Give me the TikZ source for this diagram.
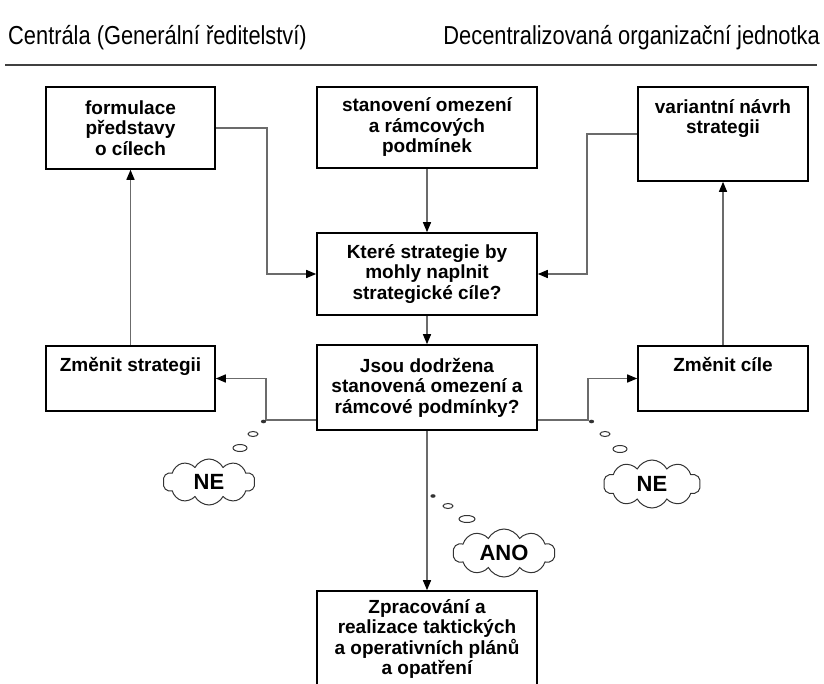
\documentclass[tikz,border=0pt]{standalone}
\usepackage{fontspec}
\setmainfont{Liberation Sans}
\usepackage{graphicx}
\usetikzlibrary{arrows.meta,shapes.symbols,calc}
\colorlet{connc}{black!58}
\tikzset{
  stepbox/.style={draw=black, line width=1.6pt, inner sep=0pt, fill=white,
    font=\bfseries\fontsize{19}{20.5}\selectfont, align=center},
  boxtext/.style={font=\bfseries\fontsize{19}{20.5}\selectfont, align=center, inner sep=0pt},
  headtext/.style={font=\fontsize{26}{28}\selectfont, inner sep=0pt},
  conn/.style={draw=connc, line width=1.4pt, -{Triangle[length=10pt,width=8pt,color=black]}},
  bubble/.style={cloud, draw=black!80, line width=1pt, cloud puffs=10, cloud puff arc=125,
    cloud ignores aspect, inner sep=0pt, font=\bfseries\fontsize{22}{24}\selectfont},
  puff/.style={draw=black!80, line width=1pt}
}
\begin{document}
\begin{tikzpicture}[x=1pt,y=-1pt]
\useasboundingbox (0,0) rectangle (824,684);
\clip (0,0) rectangle (824,684);

% column headings and rule
\node[headtext, anchor=base west] (hl) at (8,45) {\scalebox{0.84}[1]{Centrála (Generální ředitelství)}};
\node[headtext, anchor=base east] (hr) at (820,45) {\scalebox{0.84}[1]{Decentralizovaná organizační jednotka}};
\draw[line width=2pt, black!75] (5,65) -- (817,65);

% boxes
\node[stepbox, minimum width=169, minimum height=82] (b1) at (130.5,128) {formulace\\představy\\o cílech};
\node[stepbox, minimum width=220, minimum height=81] (b2) at (427,127.5) {stanovení omezení\\a rámcových\\podmínek};
\node[stepbox, minimum width=170, minimum height=94] (b3) at (723,134) {};
\node[boxtext, anchor=north] (t3) at (723,99) {variantní návrh\\strategii};
\node[stepbox, minimum width=220, minimum height=82] (b4) at (427,274) {Které strategie by\\mohly naplnit\\strategické cíle?};
\node[stepbox, minimum width=169, minimum height=65] (b5) at (130.5,378.5) {};
\node[boxtext, anchor=north] (t5) at (130.5,357) {Změnit strategii};
\node[stepbox, minimum width=220, minimum height=85] (b6) at (427,387.5) {Jsou dodržena\\stanovená omezení a\\rámcové podmínky?};
\node[stepbox, minimum width=170, minimum height=65] (b7) at (723,378.5) {};
\node[boxtext, anchor=north] (t7) at (723,357) {Změnit cíle};
\node[stepbox, minimum width=220, minimum height=129] (b8) at (427,655.5) {};
\node[boxtext, anchor=north] (t8) at (427,599) {Zpracování a\\realizace taktických\\a operativních plánů\\a opatření};

% connectors
\coordinate (j1) at (267,128);
\coordinate (j2) at (587,134);
\coordinate (k1) at (266,420);
\coordinate (k2) at (588,420);
\draw[conn] (b1.east |- j1) -- (j1) |- (b4.west);
\draw[conn] (b3.west |- j2) -- (j2) |- (b4.east);
\draw[conn] (b2.south) -- (b4.north);
\draw[conn] (b4.south) -- (b6.north);
\draw[conn] (b5.north) -- (b1.south);
\draw[conn] (b7.north) -- (b3.south);
\draw[conn] (b6.west |- k1) -- (k1) |- (b5.east);
\draw[conn] (b6.east |- k2) -- (k2) |- (b7.west);
\draw[conn] (b6.south) -- (b8.north);

% thought bubbles
\fill[black!80] (263.5,421.5) ellipse (2.6 and 1.8);
\draw[puff] (253,434) ellipse (5 and 2.5);
\draw[puff] (240,448) ellipse (7 and 3.5);
\node[bubble, minimum width=92, minimum height=46] (c1) at (209,482) {NE};

\fill[black!80] (591.5,421.5) ellipse (2.6 and 1.8);
\draw[puff] (605,434) ellipse (5 and 2.5);
\draw[puff] (620,449) ellipse (7 and 3.5);
\node[bubble, minimum width=97, minimum height=48] (c2) at (652,484) {NE};

\fill[black!80] (433,496) ellipse (2.6 and 1.8);
\draw[puff] (448,506) ellipse (5 and 2.5);
\draw[puff] (467,519) ellipse (8 and 3.5);
\node[bubble, minimum width=102, minimum height=48] (c3) at (504,553) {ANO};
\end{tikzpicture}
\end{document}
